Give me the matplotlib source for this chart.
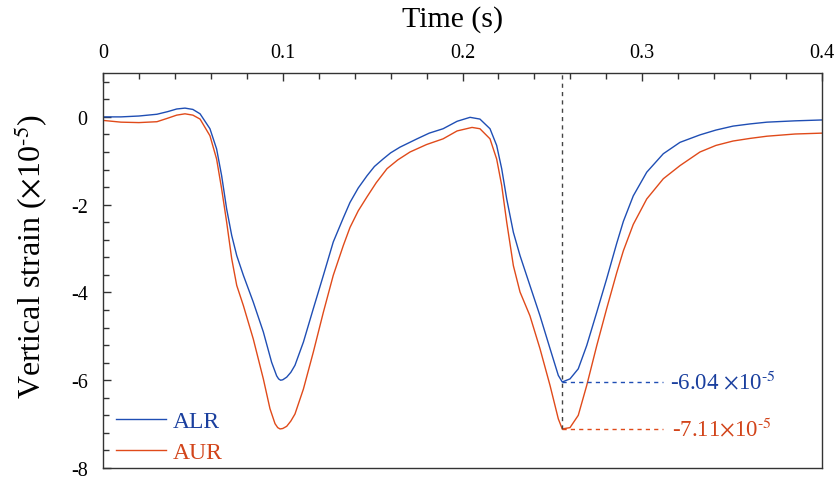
import matplotlib.pyplot as plt
import numpy as np

plt.rcParams['font.family'] = ['Liberation Serif', 'DejaVu Serif']
plt.rcParams['mathtext.fontset'] = 'stix'

# strain histories (x1e-5), sampled at irregular times
t_alr = [0, 0.01, 0.02, 0.03, 0.036, 0.041, 0.0456, 0.05, 0.054, 0.0595,
         0.0632, 0.066, 0.0688, 0.0716, 0.0744, 0.0781, 0.0836, 0.0892, 0.0938,
         0.0966, 0.0977, 0.0988, 0.1, 0.1022, 0.1045, 0.1068, 0.1115, 0.117,
         0.1226, 0.1281, 0.1337, 0.1374, 0.142, 0.1469, 0.151, 0.1558, 0.160,
         0.1652, 0.1747, 0.1815, 0.1892, 0.197, 0.2042, 0.2097, 0.2153, 0.219,
         0.2218, 0.2246, 0.2283, 0.232, 0.2375, 0.2431, 0.2487, 0.2533, 0.2555,
         0.2598, 0.2644, 0.2691, 0.2747, 0.2802, 0.2858, 0.2895, 0.295, 0.3025,
         0.3117, 0.321, 0.3321, 0.341, 0.3505, 0.36, 0.3694, 0.385, 0.4]
alr = [0.0, 0.0, 0.02, 0.06, 0.12, 0.18, 0.2, 0.17, 0.07, -0.27,
       -0.73, -1.34, -2.1, -2.7, -3.16, -3.61, -4.22, -4.9, -5.59,
       -5.9, -5.97, -6.0, -5.99, -5.93, -5.82, -5.66, -5.13, -4.37,
       -3.61, -2.85, -2.3, -1.95, -1.62, -1.34, -1.13, -0.96, -0.82,
       -0.69, -0.5, -0.37, -0.27, -0.1, -0.01, -0.05, -0.27, -0.65,
       -1.18, -1.87, -2.63, -3.16, -3.84, -4.53, -5.28, -5.89, -6.04,
       -5.97, -5.74, -5.21, -4.45, -3.69, -2.88, -2.38, -1.8, -1.26,
       -0.84, -0.58, -0.41, -0.3, -0.21, -0.16, -0.12, -0.09, -0.07]

t_aur = [0, 0.01, 0.02, 0.03, 0.036, 0.041, 0.0456, 0.05, 0.054, 0.0595,
         0.0632, 0.066, 0.0688, 0.0716, 0.0744, 0.0781, 0.0836, 0.0892, 0.0929,
         0.0957, 0.0972, 0.0985, 0.1, 0.1022, 0.1045, 0.1068, 0.1115, 0.117,
         0.1226, 0.1281, 0.1337, 0.1374, 0.142, 0.1469, 0.152, 0.158, 0.164,
         0.1708, 0.18, 0.1892, 0.197, 0.2053, 0.2097, 0.2153, 0.219, 0.2218,
         0.2246, 0.2283, 0.232, 0.2375, 0.2431, 0.2487, 0.2533, 0.2555, 0.2598,
         0.2644, 0.2691, 0.2747, 0.2802, 0.2858, 0.2895, 0.295, 0.3025, 0.3117,
         0.321, 0.3321, 0.341, 0.3505, 0.36, 0.3694, 0.385, 0.4]
aur = [-0.08, -0.12, -0.13, -0.11, -0.03, 0.04, 0.07, 0.04, -0.05, -0.43,
       -0.96, -1.64, -2.4, -3.23, -3.84, -4.3, -5.06, -5.97, -6.65,
       -6.99, -7.08, -7.11, -7.1, -7.05, -6.93, -6.77, -6.2, -5.36,
       -4.45, -3.61, -2.93, -2.52, -2.14, -1.82, -1.5, -1.18, -0.98,
       -0.8, -0.63, -0.5, -0.32, -0.24, -0.27, -0.5, -0.96, -1.56,
       -2.4, -3.39, -3.99, -4.53, -5.28, -6.12, -6.88, -7.11, -7.08,
       -6.8, -6.12, -5.21, -4.37, -3.55, -3.05, -2.45, -1.87, -1.41,
       -1.11, -0.8, -0.65, -0.55, -0.49, -0.44, -0.39, -0.37]

t_peak = 0.2555
peak_alr = -6.04
peak_aur = -7.11

blue = '#1f4eb4'
orange = '#e04a1a'
blue_txt = '#1a3f9e'
orange_txt = '#d2441a'

fig = plt.figure(figsize=(8.38, 4.81), dpi=100)
ax = fig.add_axes([103 / 838, 1 - 469 / 481, 719 / 838, 395 / 481])

ax.plot(t_alr, alr, color=blue, lw=1.0, label='ALR')
ax.plot(t_aur, aur, color=orange, lw=1.0, label='AUR')

# guide lines at the second trough
ax.axvline(t_peak, ymin=(peak_aur + 8) / 9, ymax=1, color='#444444', lw=1.0, ls=(0, (3, 3)))
ax.plot([t_peak, 0.3115], [peak_alr, peak_alr], color=blue, lw=1.0, ls=(0, (3, 3)))
ax.plot([t_peak, 0.3115], [peak_aur, peak_aur], color=orange, lw=1.0, ls=(0, (3, 3)))
ax.text(0.3155, peak_alr, '%.2f $\\times$10$^{\\text{-5}}$' % peak_alr, color=blue_txt,
        fontsize=16.5, va='center', ha='left')
ax.text(0.3165, peak_aur, '%.2f$\\times$10$^{\\text{-5}}$' % peak_aur, color=orange_txt,
        fontsize=16.5, va='center', ha='left')

ax.set_xlim(0, 0.4)
ax.set_ylim(-8, 1)
ax.set_xticks([0, 0.1, 0.2, 0.3, 0.4])
ax.set_xticklabels(['0', '0.1', '0.2', '0.3', '0.4'])
ax.set_xticks(np.arange(0, 0.401, 0.02), minor=True)
ax.set_yticks([0, -2, -4, -6, -8])
ax.set_yticklabels(['0', '-2', '-4', '-6', '-8'])
ax.set_yticks(np.arange(-8, 1.01, 0.4), minor=True)

ax.xaxis.tick_top()
ax.tick_params(axis='x', which='both', direction='in', top=True, bottom=False,
               labeltop=True, labelbottom=False, labelsize=14.5, pad=8)
ax.tick_params(axis='y', which='both', direction='in', left=True, right=False,
               labelsize=14.5, pad=11)
ax.tick_params(which='major', length=6, width=1, color='#333333')
ax.tick_params(which='minor', length=4, width=1, color='#333333')
for s in ax.spines.values():
    s.set_color('#333333')
    s.set_linewidth(1.0)

fig.text(453 / 838, 1 - 27 / 481, 'Time (s)', fontsize=21.5, ha='center', va='baseline')
fig.text(30 / 838, 1 - 256 / 481, 'Vertical strain ($\\times$10$^{\\text{-5}}$)', fontsize=23,
         rotation=90, ha='center', va='center')

ax.legend(loc='lower left', bbox_to_anchor=(0.005, -0.012), frameon=False, fontsize=17,
          handlelength=2.1, handletextpad=0.3, labelspacing=0.42, borderaxespad=0.0,
          labelcolor=[blue_txt, orange_txt])

fig.savefig('out.png', dpi=100)
